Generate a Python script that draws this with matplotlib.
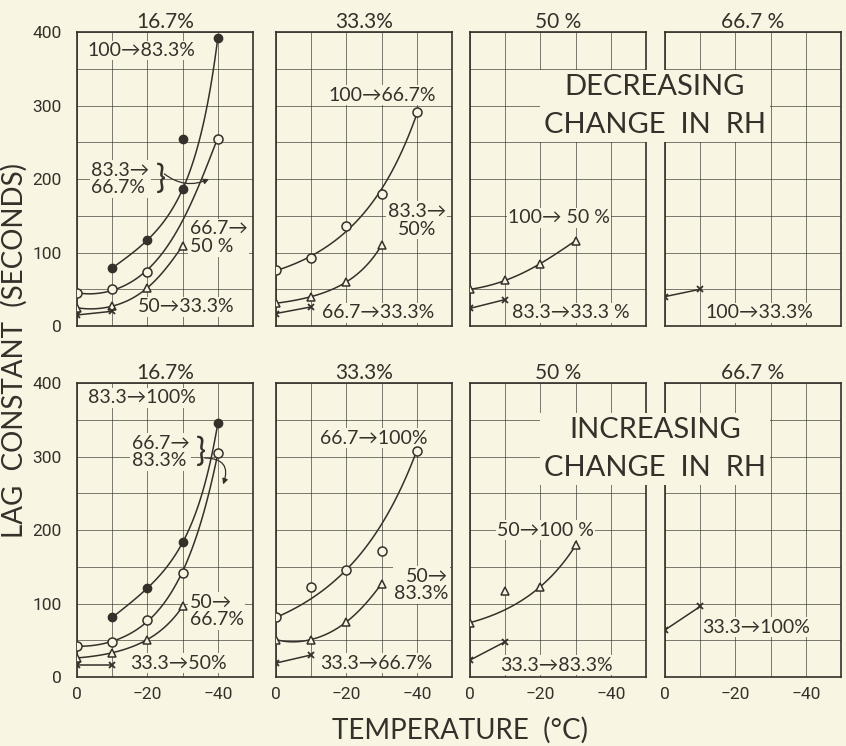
import numpy as np
import matplotlib
matplotlib.use("Agg")
import matplotlib.pyplot as plt
from matplotlib import font_manager

BG = "#f8f6e3"
INK = "#35302a"

# values: temperature (deg C) and lag constant (seconds)
# top row: decreasing change in RH, bottom row: increasing change in RH
dec1_filled_t = [-10, -20, -30, -30, -40]
dec1_filled_v = [79, 117, 186, 255, 392]
dec1_open_t = [0, -10, -20, -40]
dec1_open_v = [45, 50, 73, 254]
dec1_open_guide_t = [-30]      # where the drawn curve crosses -30 (no marker there)
dec1_open_guide_v = [148]
dec1_tri_t = [0, -10, -20, -30]
dec1_tri_v = [25, 27, 52, 109]
dec1_x_t = [0, -10]
dec1_x_v = [15, 20]

dec2_open_t = [0, -10, -20, -30, -40]
dec2_open_v = [76, 92, 136, 180, 291]
dec2_tri_t = [0, -10, -20, -30]
dec2_tri_v = [31, 40, 60, 110]
dec2_x_t = [0, -10]
dec2_x_v = [17, 26]

dec3_tri_t = [0, -10, -20, -30]
dec3_tri_v = [50, 62, 85, 116]
dec3_x_t = [0, -10]
dec3_x_v = [24, 36]

dec4_x_t = [0, -10]
dec4_x_v = [40, 50]

inc1_filled_t = [-10, -20, -30, -40]
inc1_filled_v = [81, 121, 183, 345]
inc1_open_t = [0, -10, -20, -30, -40]
inc1_open_v = [42, 48, 77, 142, 305]
inc1_tri_t = [0, -10, -20, -30]
inc1_tri_v = [26, 33, 51, 96]
inc1_x_t = [0, -10]
inc1_x_v = [16, 16]

inc2_open_t = [0, -10, -20, -30, -40]
inc2_open_v = [81, 122, 146, 171, 308]
inc2_tri_t = [0, -10, -20, -30]
inc2_tri_v = [51, 51, 75, 127]
inc2_x_t = [0, -10]
inc2_x_v = [19, 30]

inc3_tri_t = [0, -10, -20, -30]
inc3_tri_v = [74, 117, 123, 179]
inc3_x_t = [0, -10]
inc3_x_v = [23, 48]

inc4_x_t = [0, -10]
inc4_x_v = [64, 96]

panel_titles = ["16.7%", "33.3%", "50 %", "66.7 %"]
x_ticks = [0, -10, -20, -30, -40, -50]
x_ticklabels = ["0", "", "\u221220", "", "\u221240", ""]
y_ticks = [0, 50, 100, 150, 200, 250, 300, 350, 400]
y_ticklabels = ["0", "", "100", "", "200", "", "300", "", "400"]


def pick_font(cands):
    names = {f.name for f in font_manager.fontManager.ttflist}
    for c in cands:
        if c in names:
            return c
    return "DejaVu Sans"


TXT = [pick_font(["Lato", "Open Sans", "DejaVu Sans"]), "DejaVu Sans"]
NUM = [pick_font(["Liberation Sans Narrow", "DejaVu Sans Condensed", "Roboto", "Lato"]), "DejaVu Sans"]
plt.rcParams["font.family"] = TXT

MARK = {
    "filled": dict(marker="o", ms=6, mfc=INK, mec=INK),
    "open": dict(marker="o", ms=6.5, mfc=BG, mec=INK, mew=1.1),
    "tri": dict(marker="^", ms=6, mfc=BG, mec=INK, mew=1.1),
    "cross": dict(marker="x", ms=5, mec=INK, mew=1.3),
}


def draw_series(ax, t, v, kind, skip=(), guide_t=(), guide_v=()):
    t = np.asarray(t, float)
    v = np.asarray(v, float)
    keep = np.array([i not in skip for i in range(len(t))])
    tk = np.concatenate([t[keep], np.asarray(guide_t, float)])
    vk = np.concatenate([v[keep], np.asarray(guide_v, float)])
    if len(tk) > 2:
        # smooth hand-drawn style curve through the plotted points
        coef = np.polyfit(tk, np.log(vk), min(3, len(tk) - 1))
        tt = np.linspace(tk.max(), tk.min(), 120)
        ax.plot(tt, np.exp(np.polyval(coef, tt)), color=INK, lw=1.1, zorder=3)
    else:
        ax.plot(tk, vk, color=INK, lw=1.1, zorder=3)
    ax.plot(t, v, ls="none", zorder=4, **MARK[kind])


def label(ax, t, v, s, ha="left"):
    ax.text(t, v, s, ha=ha, va="center", fontsize=14, color=INK, linespacing=1.05,
            zorder=2.4, bbox=dict(facecolor=BG, edgecolor="none", pad=1.0))


def brace(ax, t, v, start, end, rad):
    ax.text(t, v, "}", ha="center", va="center", fontsize=24, color=INK, zorder=2.4)
    ax.annotate("", xy=end, xytext=start,
                arrowprops=dict(arrowstyle="-|>", color=INK, lw=0.9, mutation_scale=8,
                                shrinkA=0, shrinkB=0,
                                connectionstyle="arc3,rad=%s" % rad), zorder=3)


W, H = 846, 746
cols_px = [77, 276, 470, 665]
rows_px = [32, 383]
fig = plt.figure(figsize=(W / 100, H / 100), dpi=100, facecolor=BG)
axes = []
for r, top in enumerate(rows_px):
    row = []
    for c, left in enumerate(cols_px):
        ax = fig.add_axes([left / W, 1 - (top + 294) / H, 176 / W, 294 / H])
        ax.set_facecolor(BG)
        ax.set_xlim(0, -50)
        ax.set_ylim(0, 400)
        ax.set_xticks(x_ticks)
        ax.set_yticks(y_ticks)
        ax.set_xticklabels(x_ticklabels if r == 1 else [""] * len(x_ticks))
        ax.set_yticklabels(y_ticklabels if c == 0 else [""] * len(y_ticks))
        ax.tick_params(length=0, labelsize=12.5, colors=INK, pad=7)
        ax.tick_params(axis="y", pad=11)
        for lab in ax.get_xticklabels() + ax.get_yticklabels():
            lab.set_family(NUM)
        ax.grid(True, color=INK, lw=0.6, alpha=0.75)
        ax.set_axisbelow(True)
        for sp in ax.spines.values():
            sp.set_color(INK)
            sp.set_linewidth(1.2)
        ax.set_title(panel_titles[c], fontsize=15, color=INK, pad=3)
        row.append(ax)
    axes.append(row)

# decreasing change in RH
a = axes[0][0]
draw_series(a, dec1_filled_t, dec1_filled_v, "filled", skip=(3,))
draw_series(a, dec1_open_t, dec1_open_v, "open",
            guide_t=dec1_open_guide_t, guide_v=dec1_open_guide_v)
draw_series(a, dec1_tri_t, dec1_tri_v, "tri")
draw_series(a, dec1_x_t, dec1_x_v, "cross")
label(a, -3, 375, "100\u219283.3%")
label(a, -4, 200, "83.3\u2192\n66.7%")
brace(a, -23.8, 200, (-24.8, 207), (-37.5, 200), 0.3)
label(a, -32, 120, "66.7\u2192\n50 %")
label(a, -17.3, 26, "50\u219233.3%")

a = axes[0][1]
draw_series(a, dec2_open_t, dec2_open_v, "open")
draw_series(a, dec2_tri_t, dec2_tri_v, "tri")
draw_series(a, dec2_x_t, dec2_x_v, "cross")
label(a, -14.8, 314, "100\u219266.7%")
label(a, -40, 144, "83.3\u2192\n50%", ha="center")
label(a, -13.1, 18, "66.7\u219233.3%")

a = axes[0][2]
draw_series(a, dec3_tri_t, dec3_tri_v, "tri")
draw_series(a, dec3_x_t, dec3_x_v, "cross")
label(a, -10.8, 147, "100\u2192 50 %")
label(a, -11.9, 18, "83.3\u219233.3 %")

a = axes[0][3]
draw_series(a, dec4_x_t, dec4_x_v, "cross")
label(a, -11.4, 18, "100\u219233.3%")

# increasing change in RH
a = axes[1][0]
draw_series(a, inc1_filled_t, inc1_filled_v, "filled")
draw_series(a, inc1_open_t, inc1_open_v, "open")
draw_series(a, inc1_tri_t, inc1_tri_v, "tri")
draw_series(a, inc1_x_t, inc1_x_v, "cross")
label(a, -3, 380, "83.3\u2192100%")
label(a, -15.5, 306, "66.7\u2192\n83.3%")
brace(a, -35.3, 306, (-36.3, 298), (-41.5, 262), -0.7)
label(a, -32, 90, "50\u2192\n66.7%")
label(a, -15, 19, "33.3\u219250%")

a = axes[1][1]
draw_series(a, inc2_open_t, inc2_open_v, "open", skip=(1, 3))
draw_series(a, inc2_tri_t, inc2_tri_v, "tri")
draw_series(a, inc2_x_t, inc2_x_v, "cross")
label(a, -12.5, 325, "66.7\u2192100%")
label(a, -49, 125, "50\u2192\n83.3%", ha="right")
label(a, -12.5, 19, "33.3\u219266.7%")

a = axes[1][2]
draw_series(a, inc3_tri_t, inc3_tri_v, "tri", skip=(1,))
draw_series(a, inc3_x_t, inc3_x_v, "cross")
label(a, -7.7, 200, "50\u2192100 %")
label(a, -8.5, 16, "33.3\u219283.3%")

a = axes[1][3]
draw_series(a, inc4_x_t, inc4_x_v, "cross")
label(a, -10.5, 68, "33.3\u2192100%")

big = dict(ha="center", va="center", fontsize=21, color=INK, linespacing=1.6,
           bbox=dict(facecolor=BG, edgecolor="none", pad=3), zorder=5)
fig.text(655 / W, 1 - 106 / H, "DECREASING\nCHANGE  IN  RH", **big)
fig.text(655 / W, 1 - 449 / H, "INCREASING\nCHANGE  IN  RH", **big)

fig.text(14 / W, 1 - 350 / H, "LAG  CONSTANT  (SECONDS)", rotation=90,
         ha="center", va="center", fontsize=20, color=INK)
fig.text(460 / W, 1 - 730 / H, "TEMPERATURE  (\u00b0C)", ha="center", va="center",
         fontsize=20, color=INK)

fig.savefig("out.png", dpi=100, facecolor=BG)
